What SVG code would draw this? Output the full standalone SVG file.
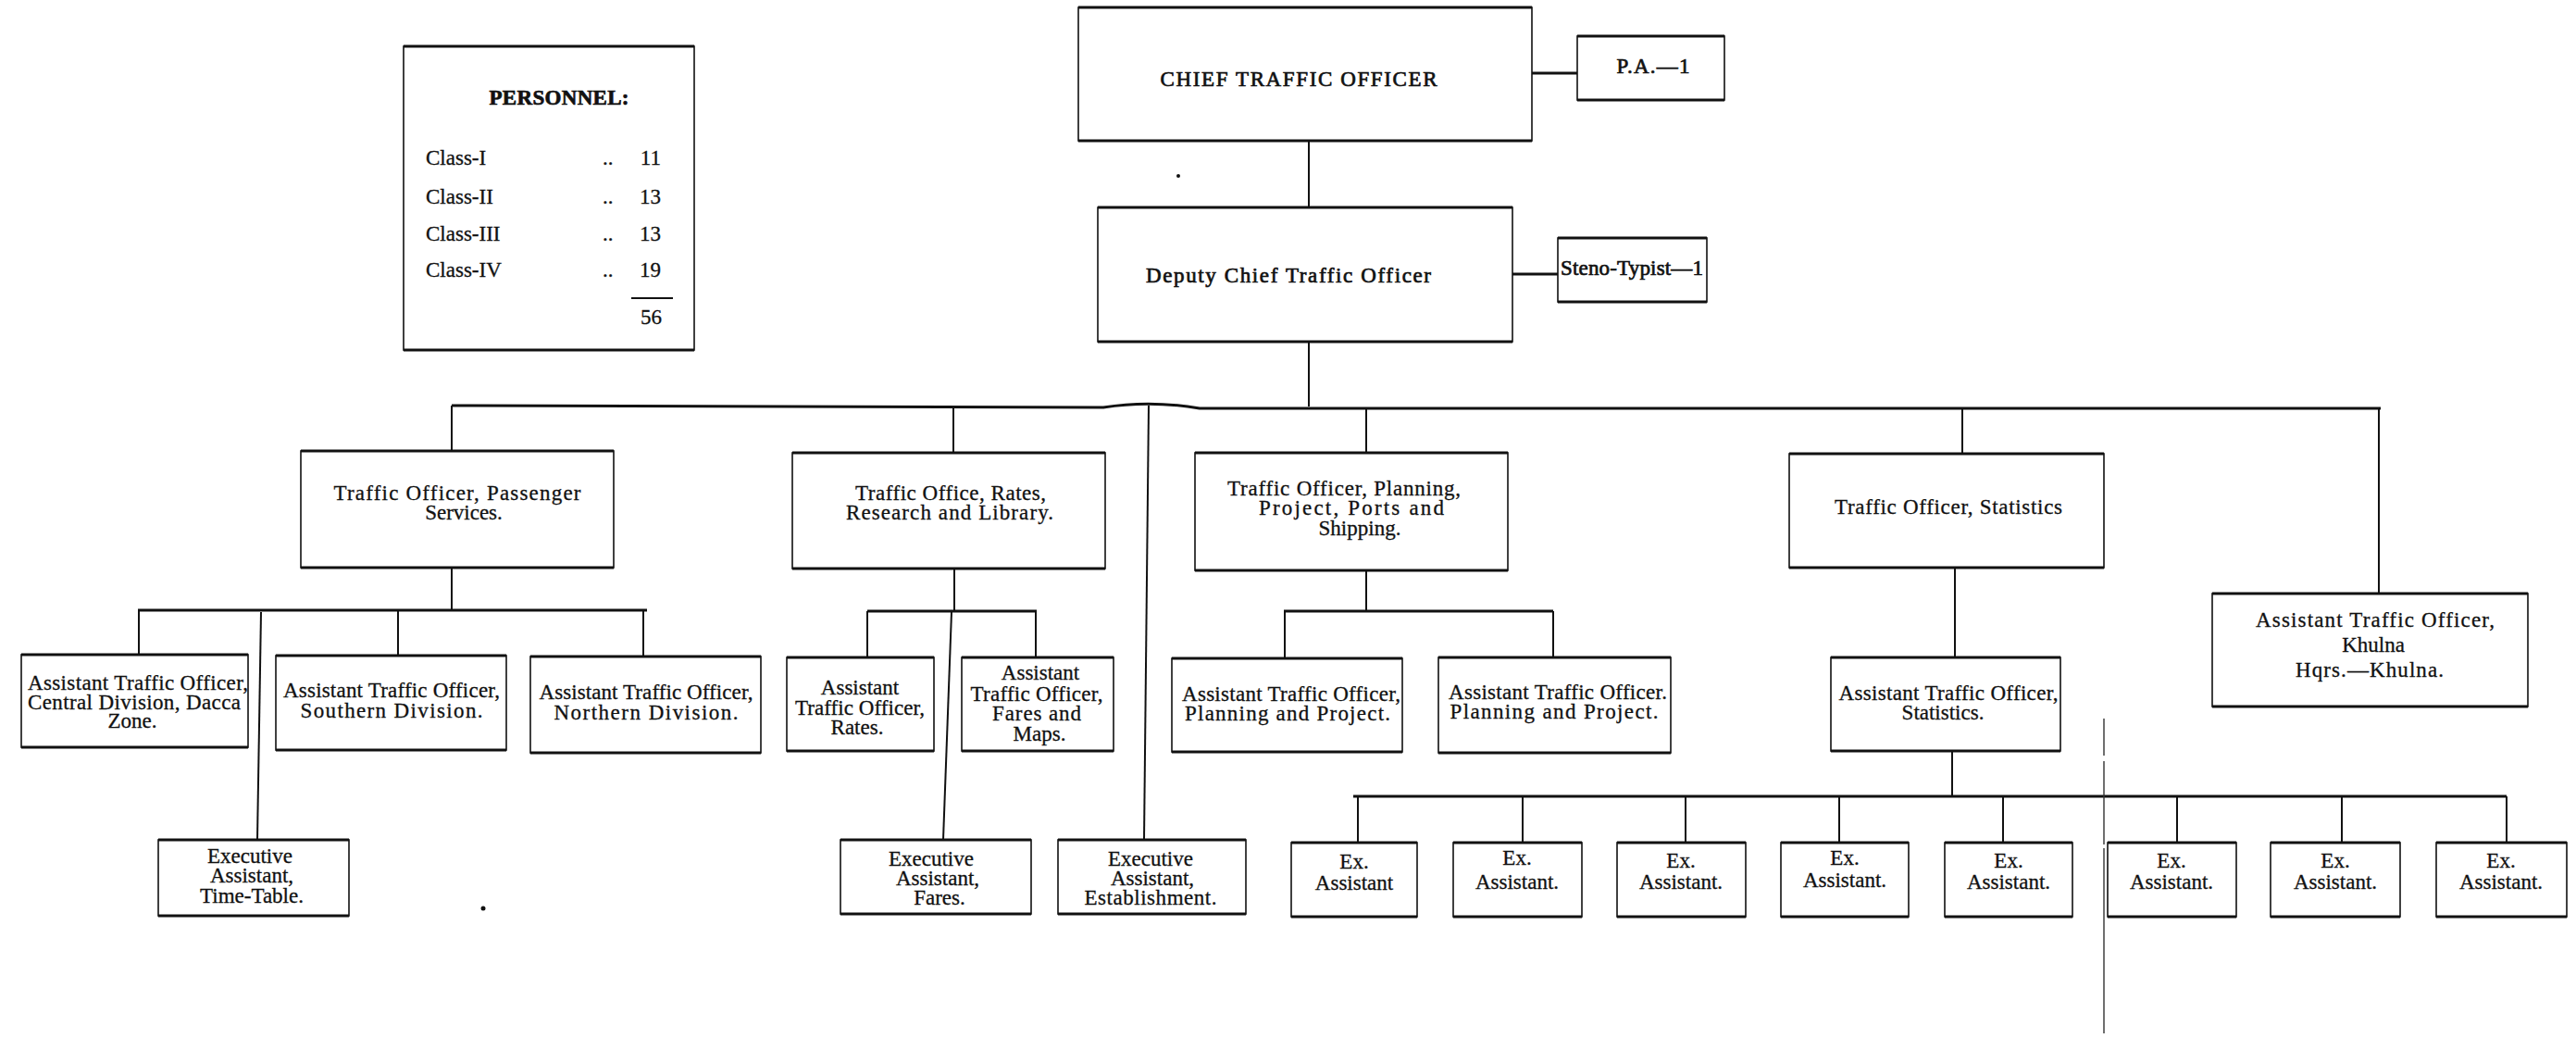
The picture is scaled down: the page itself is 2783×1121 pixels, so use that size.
<svg xmlns="http://www.w3.org/2000/svg" width="2783" height="1121" viewBox="0 0 2783 1121">
<style>
.box{fill:#fff;stroke:#111;stroke-width:1.6}
.he{fill:none;stroke:#111;stroke-width:3}
.ln{fill:none;stroke:#111;stroke-width:2}
.bus{fill:none;stroke:#111;stroke-width:3}
.fold{fill:none;stroke:#333;stroke-width:1.4;stroke-dasharray:40 6 90 4 200 8}
text{font-family:"Liberation Serif","DejaVu Serif",serif;font-size:23px;fill:#111;stroke:#111;stroke-width:0.3;text-anchor:middle}
.hd{stroke-width:0.7}
.st{text-anchor:start}
.en{text-anchor:end}
</style>
<rect width="2783" height="1121" fill="#fff"/>

<g id="connectors">
<path class="bus" d="M1655 79H1704"/>
<path class="ln" d="M1414 152V224"/>
<path class="bus" d="M1634 296H1683"/>
<path class="ln" d="M1414 369V439"/>
<path class="bus" d="M488 438L1192 440Q1243 432 1296 441L2572 441"/>
<path class="ln" d="M488 438V487M1030 440V489M1476 441V489M2120 441V490M2570 441V641"/>
<path class="ln" d="M1241 438L1236 907"/>
<path class="ln" d="M488 613V659"/>
<path class="bus" d="M149 659H699"/>
<path class="ln" d="M150 659V707M430 660V708M695 660V709"/>
<path class="ln" d="M282 661L278 907"/>
<path class="ln" d="M1031 614V660"/>
<path class="bus" d="M937 660H1120"/>
<path class="ln" d="M937 660V710M1119 660V710"/>
<path class="ln" d="M1028 661L1019 907"/>
<path class="ln" d="M1476 616V660"/>
<path class="bus" d="M1387 660H1678"/>
<path class="ln" d="M1388 660V711M1678 660V710"/>
<path class="ln" d="M2112 613V710"/>
<path class="ln" d="M2109 811V860"/>
<path class="bus" d="M1462 860H2708"/>
<path class="ln" d="M1467 860V910M1645 860V910M1821 860V910M1987 860V910M2164 860V910M2352 860V910M2530 860V910M2708 860V910"/>
</g>

<g id="personnel">
<rect class="box" x="436" y="50" width="314" height="328"/>
<path class="he" d="M436 50H750M436 378H750"/>
<text class="hd" x="604" y="113" font-size="22" font-weight="bold" stroke-width="0.3" textLength="151">PERSONNEL:</text>
<text class="st" x="460" y="178">Class-I</text>
<text class="st" x="460" y="220">Class-II</text>
<text class="st" x="460" y="260">Class-III</text>
<text class="st" x="460" y="299">Class-IV</text>
<text class="st" x="651" y="178">..</text>
<text class="st" x="651" y="220">..</text>
<text class="st" x="651" y="260">..</text>
<text class="st" x="651" y="299">..</text>
<text class="en" x="714" y="178">11</text>
<text class="en" x="714" y="220">13</text>
<text class="en" x="714" y="260">13</text>
<text class="en" x="714" y="299">19</text>
<path class="ln" d="M682 322H727"/>
<text class="en" x="715" y="350">56</text>
</g>

<g id="chief">
<rect class="box" x="1165" y="8" width="490" height="144"/>
<path class="he" d="M1165 8H1655M1165 152H1655"/>
<text class="hd" x="1403" y="93" font-size="25" textLength="299">CHIEF TRAFFIC OFFICER</text>
</g>
<g id="pa">
<rect class="box" x="1704" y="39" width="159" height="69"/>
<path class="he" d="M1704 39H1863M1704 108H1863"/>
<text class="hd" x="1786" y="79" textLength="79">P.A.—1</text>
</g>
<g id="deputy">
<rect class="box" x="1186" y="224" width="448" height="145"/>
<path class="he" d="M1186 224H1634M1186 369H1634"/>
<text class="hd" x="1392" y="305" font-size="26" textLength="308">Deputy Chief Traffic Officer</text>
</g>
<g id="steno">
<rect class="box" x="1683" y="257" width="161" height="69"/>
<path class="he" d="M1683 257H1844M1683 326H1844"/>
<text class="hd" x="1763" y="297" font-size="22" textLength="154">Steno-Typist—1</text>
</g>

<g id="passenger">
<rect class="box" x="325" y="487" width="338" height="126"/>
<path class="he" d="M325 487H663M325 613H663"/>
<text x="494" y="540" textLength="267">Traffic Officer, Passenger</text>
<text x="501" y="561">Services.</text>
</g>
<g id="rates">
<rect class="box" x="856" y="489" width="338" height="125"/>
<path class="he" d="M856 489H1194M856 614H1194"/>
<text x="1027" y="540" textLength="206">Traffic Office, Rates,</text>
<text x="1026" y="561" textLength="224">Research and Library.</text>
</g>
<g id="planning">
<rect class="box" x="1291" y="489" width="338" height="127"/>
<path class="he" d="M1291 489H1629M1291 616H1629"/>
<text x="1452" y="535" textLength="252">Traffic Officer, Planning,</text>
<text x="1460" y="556" textLength="200">Project, Ports and</text>
<text x="1469" y="578">Shipping.</text>
</g>
<g id="statistics">
<rect class="box" x="1933" y="490" width="340" height="123"/>
<path class="he" d="M1933 490H2273M1933 613H2273"/>
<text x="2105" y="555" textLength="246">Traffic Officer, Statistics</text>
</g>
<g id="khulna">
<rect class="box" x="2390" y="641" width="341" height="122"/>
<path class="he" d="M2390 641H2731M2390 763H2731"/>
<text x="2566" y="677" textLength="258">Assistant Traffic Officer,</text>
<text x="2564" y="704">Khulna</text>
<text x="2560" y="731" textLength="160">Hqrs.—Khulna.</text>
</g>

<g id="central">
<rect class="box" x="23" y="707" width="245" height="100"/>
<path class="he" d="M23 707H268M23 807H268"/>
<text x="149" y="745" textLength="238">Assistant Traffic Officer,</text>
<text x="145" y="766" textLength="230">Central Division, Dacca</text>
<text x="143" y="786">Zone.</text>
</g>
<g id="southern">
<rect class="box" x="298" y="708" width="249" height="102"/>
<path class="he" d="M298 708H547M298 810H547"/>
<text x="423" y="753" textLength="234">Assistant Traffic Officer,</text>
<text x="423" y="775" textLength="197">Southern Division.</text>
</g>
<g id="northern">
<rect class="box" x="573" y="709" width="249" height="104"/>
<path class="he" d="M573 709H822M573 813H822"/>
<text x="698" y="755" textLength="231">Assistant Traffic Officer,</text>
<text x="698" y="777" textLength="199">Northern Division.</text>
</g>
<g id="timetable">
<rect class="box" x="171" y="907" width="206" height="82"/>
<path class="he" d="M171 907H377M171 989H377"/>
<text x="270" y="932">Executive</text>
<text x="272" y="953">Assistant,</text>
<text x="272" y="975">Time-Table.</text>
</g>

<g id="ato-rates">
<rect class="box" x="850" y="710" width="159" height="101"/>
<path class="he" d="M850 710H1009M850 811H1009"/>
<text x="929" y="750">Assistant</text>
<text x="929" y="772" textLength="140">Traffic Officer,</text>
<text x="926" y="793">Rates.</text>
</g>
<g id="ato-fares">
<rect class="box" x="1039" y="710" width="164" height="101"/>
<path class="he" d="M1039 710H1203M1039 811H1203"/>
<text x="1124" y="734">Assistant</text>
<text x="1120" y="757" textLength="143">Traffic Officer,</text>
<text x="1120" y="778" textLength="96">Fares and</text>
<text x="1123" y="800">Maps.</text>
</g>
<g id="exec-fares">
<rect class="box" x="908" y="907" width="206" height="80"/>
<path class="he" d="M908 907H1114M908 987H1114"/>
<text x="1006" y="935">Executive</text>
<text x="1013" y="956">Assistant,</text>
<text x="1015" y="977">Fares.</text>
</g>
<g id="exec-establishment">
<rect class="box" x="1143" y="907" width="203" height="80"/>
<path class="he" d="M1143 907H1346M1143 987H1346"/>
<text x="1243" y="935">Executive</text>
<text x="1245" y="956">Assistant,</text>
<text x="1243" y="977" textLength="143">Establishment.</text>
</g>

<g id="ato-planning-1">
<rect class="box" x="1266" y="711" width="249" height="101"/>
<path class="he" d="M1266 711H1515M1266 812H1515"/>
<text x="1395" y="757" textLength="236">Assistant Traffic Officer,</text>
<text x="1391" y="778" textLength="222">Planning and Project.</text>
</g>
<g id="ato-planning-2">
<rect class="box" x="1554" y="710" width="251" height="103"/>
<path class="he" d="M1554 710H1805M1554 813H1805"/>
<text x="1683" y="755" textLength="236">Assistant Traffic Officer.</text>
<text x="1679" y="776" textLength="225">Planning and Project.</text>
</g>
<g id="ato-statistics">
<rect class="box" x="1978" y="710" width="248" height="101"/>
<path class="he" d="M1978 710H2226M1978 811H2226"/>
<text x="2105" y="756" textLength="237">Assistant Traffic Officer,</text>
<text x="2099" y="777">Statistics.</text>
</g>

<g id="ex-1"><rect class="box" x="1395" y="910" width="136" height="80"/><path class="he" d="M1395 910H1531M1395 990H1531"/><text x="1463" y="938">Ex.</text><text x="1463" y="961">Assistant</text></g>
<g id="ex-2"><rect class="box" x="1570" y="910" width="139" height="80"/><path class="he" d="M1570 910H1709M1570 990H1709"/><text x="1639" y="934">Ex.</text><text x="1639" y="960">Assistant.</text></g>
<g id="ex-3"><rect class="box" x="1747" y="910" width="139" height="80"/><path class="he" d="M1747 910H1886M1747 990H1886"/><text x="1816" y="937">Ex.</text><text x="1816" y="960">Assistant.</text></g>
<g id="ex-4"><rect class="box" x="1924" y="910" width="138" height="80"/><path class="he" d="M1924 910H2062M1924 990H2062"/><text x="1993" y="934">Ex.</text><text x="1993" y="958">Assistant.</text></g>
<g id="ex-5"><rect class="box" x="2101" y="910" width="138" height="80"/><path class="he" d="M2101 910H2239M2101 990H2239"/><text x="2170" y="937">Ex.</text><text x="2170" y="960">Assistant.</text></g>
<g id="ex-6"><rect class="box" x="2277" y="910" width="139" height="80"/><path class="he" d="M2277 910H2416M2277 990H2416"/><text x="2346" y="937">Ex.</text><text x="2346" y="960">Assistant.</text></g>
<g id="ex-7"><rect class="box" x="2453" y="910" width="140" height="80"/><path class="he" d="M2453 910H2593M2453 990H2593"/><text x="2523" y="937">Ex.</text><text x="2523" y="960">Assistant.</text></g>
<g id="ex-8"><rect class="box" x="2632" y="910" width="141" height="80"/><path class="he" d="M2632 910H2773M2632 990H2773"/><text x="2702" y="937">Ex.</text><text x="2702" y="960">Assistant.</text></g>

<path class="fold" d="M2273 776V1121"/>
<circle cx="1273" cy="190" r="2" fill="#111"/>
<circle cx="522" cy="981" r="2.5" fill="#111"/>
</svg>
